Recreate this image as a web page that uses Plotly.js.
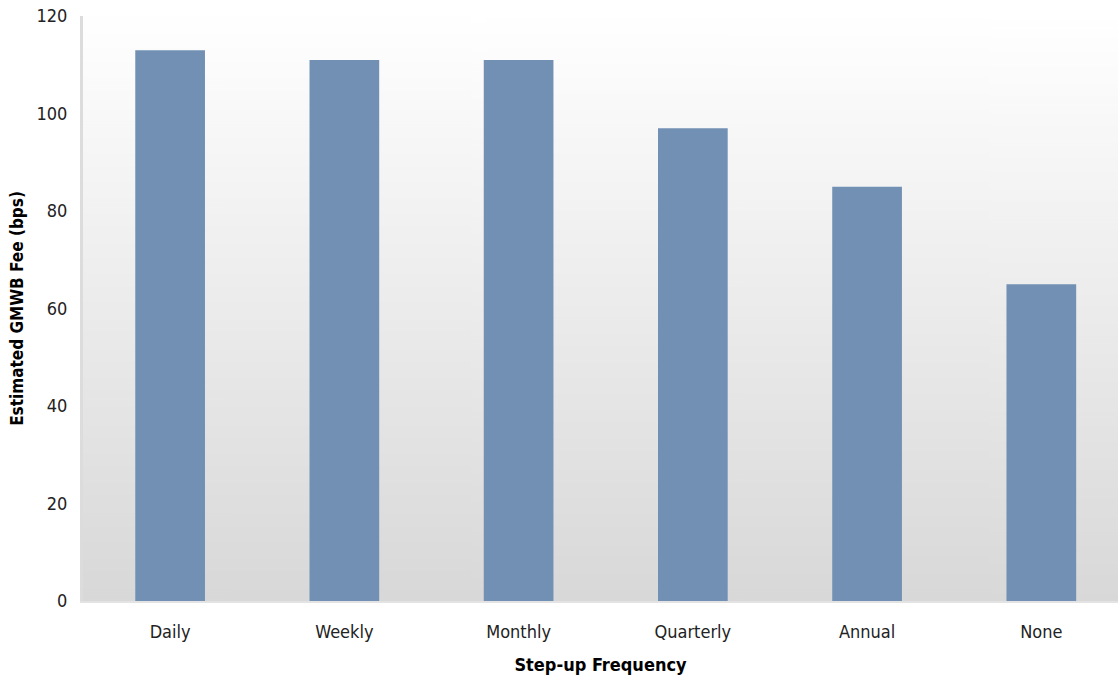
<!DOCTYPE html>
<html>
<head>
<meta charset="utf-8">
<script src="https://cdn.plot.ly/plotly-3.0.1.min.js"></script>
<style>
html,body{margin:0;padding:0;background:#fff;}
#chart{width:1118px;height:678px;}
</style>
</head>
<body>
<div id="chart"></div>
<script>
const categories = ["Daily", "Weekly", "Monthly", "Quarterly", "Annual", "None"];
const fees = [113, 111, 111, 97, 85, 65];
const yTicks = [0, 20, 40, 60, 80, 100, 120];

const FONT = '"Liberation Sans Narrow", "DejaVu Sans Condensed", "Roboto", sans-serif';

// vertical gradient for plot background
const cv = document.createElement('canvas');
cv.width = 4; cv.height = 400;
const ctx = cv.getContext('2d');
const g = ctx.createLinearGradient(0, 0, 0, 400);
g.addColorStop(0, '#ffffff');
g.addColorStop(1, '#d8d8d8');
ctx.fillStyle = g;
ctx.fillRect(0, 0, 4, 400);
const bgUrl = cv.toDataURL('image/png');

const trace = {
  type: 'bar',
  x: categories,
  y: fees,
  marker: {color: '#7190b3'},
  width: 0.40,
  hoverinfo: 'x+y'
};

const layout = {
  width: 1118, height: 678,
  margin: {l: 83, r: 0, t: 16, b: 77},
  paper_bgcolor: '#ffffff',
  plot_bgcolor: 'rgba(0,0,0,0)',
  showlegend: false,
  font: {family: FONT, size: 18, color: '#222'},
  images: [{
    source: bgUrl, xref: 'paper', yref: 'paper',
    x: 0, y: 1, sizex: 1, sizey: 1, sizing: 'stretch',
    xanchor: 'left', yanchor: 'top', layer: 'below'
  }],
  xaxis: {
    type: 'category',
    range: [-0.5, 5.44],
    showgrid: false,
    zeroline: false,
    showline: true,
    linecolor: '#e3e3e3',
    linewidth: 2,
    ticks: '',
    ticklabelstandoff: 13,
    tickfont: {family: FONT, size: 18, color: '#222'},
    title: {text: '<b>Step-up Frequency</b>', font: {family: FONT, size: 18, color: '#000'}, standoff: 18}
  },
  yaxis: {
    range: [0, 120],
    tickvals: yTicks,
    ticktext: yTicks.map(String),
    showgrid: false,
    zeroline: false,
    showline: true,
    linecolor: '#dcdcdc',
    linewidth: 3,
    ticks: 'outside',
    ticklen: 9,
    tickcolor: 'rgba(0,0,0,0)',
    tickfont: {family: FONT, size: 18, color: '#222'},
    title: {text: '<b>Estimated GMWB Fee (bps)</b>', font: {family: FONT, size: 17, color: '#000'}, standoff: 9}
  },
  bargap: 0.6
};

Plotly.newPlot('chart', [trace], layout, {displayModeBar: false, staticPlot: true});
</script>
</body>
</html>
